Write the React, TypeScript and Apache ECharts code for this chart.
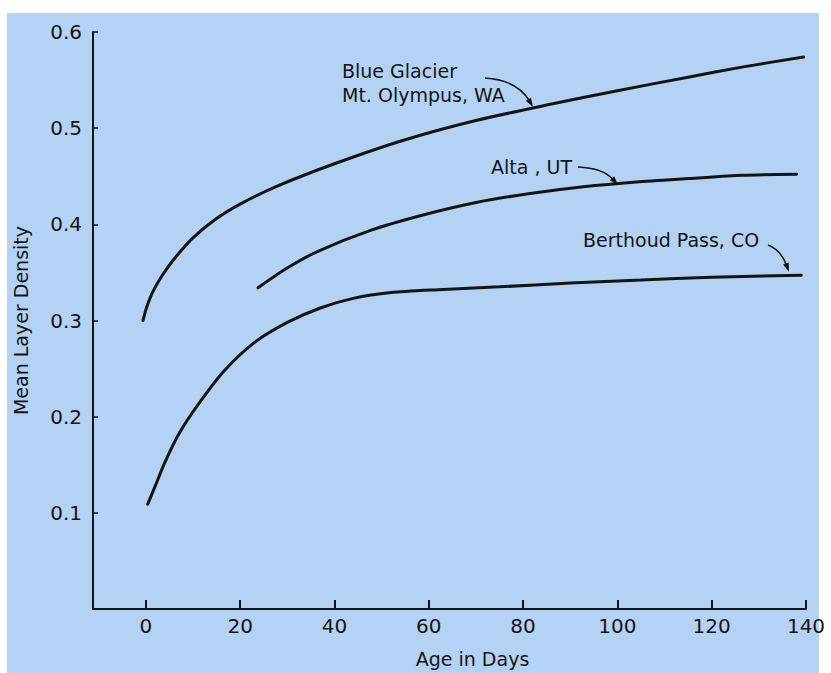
import React, { useEffect, useRef } from "react";
import * as echarts from "echarts";

const xTicks = [0, 20, 40, 60, 80, 100, 120, 140];
const yTicks = [0.1, 0.2, 0.3, 0.4, 0.5, 0.6];

const blueGlacier: [number, number][] = [
  [-0.6, 0.3], [0.2, 0.314], [1.5, 0.33], [3.5, 0.347], [6, 0.364], [10, 0.386], [15, 0.406],
  [20, 0.421], [27.5, 0.439], [40, 0.463], [55, 0.488], [70, 0.508], [85, 0.524],
  [100, 0.539], [115, 0.553], [127, 0.564], [139.5, 0.574],
];
const alta: [number, number][] = [
  [23.8, 0.334], [29.8, 0.354], [36.5, 0.372], [47.8, 0.394], [59, 0.41], [70.3, 0.423],
  [81.5, 0.432], [92.8, 0.439], [104, 0.444], [115.3, 0.4476], [126.5, 0.451], [138, 0.452],
];
const berthoud: [number, number][] = [
  [0.4, 0.109], [2, 0.128], [4, 0.152], [7, 0.182], [11, 0.212], [16.5, 0.247], [23, 0.277],
  [30, 0.298], [37, 0.313], [44, 0.323], [52, 0.329], [62, 0.332], [75, 0.335],
  [90, 0.339], [105, 0.342], [120, 0.345], [139, 0.347],
];

const INK = "#141414";
const FONT = "DejaVu Sans";

function arrow(sx: number, sy: number, cx: number, cy: number, ex: number, ey: number) {
  const dx = ex - cx, dy = ey - cy;
  const len = Math.hypot(dx, dy);
  const ux = dx / len, uy = dy / len;
  const L = 9, W = 6;
  const bx = ex - ux * L, by = ey - uy * L;
  const nx = -uy, ny = ux;
  return [
    {
      type: "bezierCurve",
      shape: { x1: sx, y1: sy, cpx1: cx, cpy1: cy, x2: bx + ux * 2, y2: by + uy * 2 },
      style: { stroke: INK, lineWidth: 1.5, fill: null },
      z: 10,
    },
    {
      type: "polygon",
      shape: { points: [[ex, ey], [bx + nx * W / 2, by + ny * W / 2], [bx - nx * W / 2, by - ny * W / 2]] },
      style: { fill: INK },
      z: 10,
    },
  ];
}

function label(text: string, x: number, y: number) {
  return {
    type: "text",
    x,
    y,
    z: 10,
    style: { text, fill: INK, font: `19px "${FONT}"`, textVerticalAlign: "middle", textAlign: "left" },
  };
}

export default function App() {
  const ref = useRef<HTMLDivElement>(null);
  useEffect(() => {
    if (!ref.current) return;
    const chart = echarts.init(ref.current, undefined, { renderer: "svg" });
    const lineSeries = (name: string, data: [number, number][]) => ({
      name,
      type: "line",
      data,
      smooth: 0.25,
      showSymbol: false,
      lineStyle: { color: INK, width: 3, cap: "round" },
      z: 5,
    });
    chart.setOption({
      animation: false,
      backgroundColor: "#ffffff",
      grid: { left: 93, right: 25, top: 32, bottom: 61 },
      xAxis: {
        type: "value",
        min: -11.2,
        max: 140,
        name: "Age in Days",
        nameLocation: "middle",
        nameGap: 40,
        nameTextStyle: { color: INK, fontSize: 19, fontFamily: FONT, padding: [0, 0, 0, 46] },
        axisLine: { show: true, onZero: false, lineStyle: { color: INK, width: 2 } },
        axisTick: { show: true, inside: true, length: 9, customValues: xTicks, lineStyle: { color: INK, width: 2 } },
        axisLabel: { color: INK, fontSize: 20, fontFamily: FONT, margin: 7, customValues: xTicks },
        splitLine: { show: false },
      },
      yAxis: {
        type: "value",
        min: 0,
        max: 0.6,
        name: "Mean Layer Density",
        nameLocation: "middle",
        nameGap: 63,
        nameTextStyle: { color: INK, fontSize: 19, fontFamily: FONT },
        axisLine: { show: true, onZero: false, lineStyle: { color: INK, width: 2 } },
        axisTick: { show: true, inside: true, length: 5, customValues: yTicks, lineStyle: { color: INK, width: 1.5 } },
        axisLabel: {
          color: INK,
          fontSize: 20,
          fontFamily: FONT,
          margin: 11,
          customValues: yTicks,
          formatter: (v: number) => v.toFixed(1),
        },
        splitLine: { show: false },
      },
      graphic: [
        {
          type: "rect",
          shape: { x: 7, y: 13, width: 812, height: 670 },
          style: { fill: "#b4d3f4" },
          z: -100,
          silent: true,
        },
        label("Blue Glacier", 342, 71),
        label("Mt. Olympus, WA", 342, 95),
        label("Alta , UT", 491, 167),
        label("Berthoud Pass, CO", 583, 240),
        ...arrow(485, 78, 517, 80, 533, 107),
        ...arrow(578, 167, 603, 168, 618, 185),
        ...arrow(768, 245, 781, 250, 789, 272),
      ],
      series: [
        lineSeries("Blue Glacier, Mt. Olympus, WA", blueGlacier),
        lineSeries("Alta, UT", alta),
        lineSeries("Berthoud Pass, CO", berthoud),
      ],
    });
    return () => chart.dispose();
  }, []);
  return <div ref={ref} style={{ position: "fixed", left: 0, top: 0, width: 831, height: 673 }} />;
}
